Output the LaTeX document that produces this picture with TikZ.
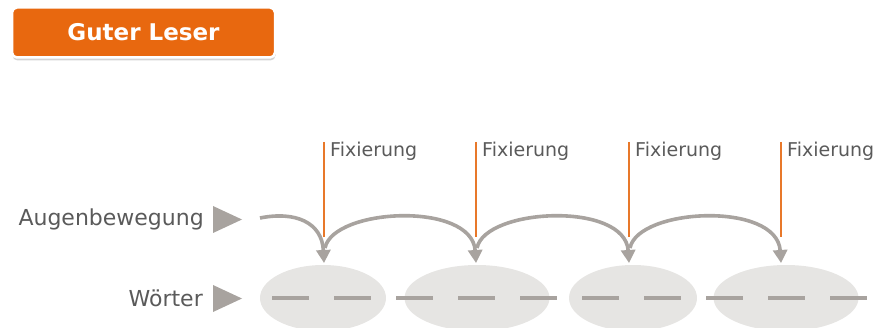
\documentclass[tikz,border=0pt]{standalone}
\usepackage{fontspec}
\setmainfont{DejaVu Sans}
\usetikzlibrary{shapes.geometric,arrows.meta,shadows}
\definecolor{orangeA}{HTML}{E8680F}
\definecolor{fixline}{HTML}{E8782A}
\definecolor{txtgray}{HTML}{5A5A5A}
\definecolor{arrgray}{HTML}{A8A39F}
\definecolor{ellgray}{HTML}{E6E5E3}
\tikzset{
  titlebox/.style={fill=orangeA, draw=white, line width=2.5pt, rounded corners=5pt,
    minimum width=263pt, minimum height=50pt, text=white, inner sep=0pt,
    font=\fontsize{23}{26}\selectfont\bfseries,
    drop shadow={opacity=0.35, shadow xshift=0.5pt, shadow yshift=-3pt}},
  rowlabel/.style={text=txtgray, font=\fontsize{22}{26}\selectfont, inner sep=0pt},
  fixlabel/.style={text=txtgray, font=\fontsize{19}{22}\selectfont, inner sep=0pt},
  fixmark/.style={draw=fixline, line width=1.8pt},
  wordell/.style={ellipse, fill=ellgray, inner sep=0pt, minimum height=66pt},
  dashline/.style={draw=arrgray, line width=3.6pt, dash pattern=on 37pt off 25pt},
  saccade/.style={draw=arrgray, line width=3.6pt, -{Triangle[length=13pt,width=14pt]}},
  pointer/.style={fill=arrgray}
}
\begin{document}
\begin{tikzpicture}[x=1pt,y=-1pt]
\useasboundingbox (0,0) rectangle (877,328);
% title
\node[titlebox] (title) at (143.5,32.5) {Guter Leser};
% word ellipses
\node[wordell, minimum width=126pt] (w1) at (323,298) {};
\node[wordell, minimum width=145pt] (w2) at (477,298) {};
\node[wordell, minimum width=128pt] (w3) at (633,298) {};
\node[wordell, minimum width=145pt] (w4) at (786,298) {};
% dashes
\coordinate (d0) at (272,298);
\coordinate (d1) at (867,298);
\draw[dashline] (d0) -- (d1);
% row labels
\node[rowlabel, anchor=base east] (aug) at (204,226) {Augenbewegung};
\node[rowlabel, anchor=base east] (woe) at (203,306) {Wörter};
\fill[pointer] (213,206) -- (242,219.5) -- (213,233) -- cycle;
\fill[pointer] (213,285) -- (242,298.5) -- (213,312) -- cycle;
% fixation marks
\foreach \i/\x in {1/324,2/476,3/629,4/781}{
  \coordinate (ft\i) at (\x,142);
  \coordinate (fb\i) at (\x,237);
  \draw[fixmark] (ft\i) -- (fb\i);
  \node[fixlabel, anchor=base west] (fl\i) at (\x+6,157) {Fixierung};
  \coordinate (tip\i) at (\x,263);
  \coordinate (j\i) at (\x+1,248);
}
% saccades
\coordinate (s0) at (260,218);
\draw[saccade] (s0) .. controls (295,211) and (322,222) .. (tip1);
\draw[saccade] (j1) .. controls +(8,-40) and +(-4,-62) .. (tip2);
\draw[saccade] (j2) .. controls +(8,-40) and +(-4,-62) .. (tip3);
\draw[saccade] (j3) .. controls +(8,-40) and +(-4,-62) .. (tip4);
\end{tikzpicture}
\end{document}
